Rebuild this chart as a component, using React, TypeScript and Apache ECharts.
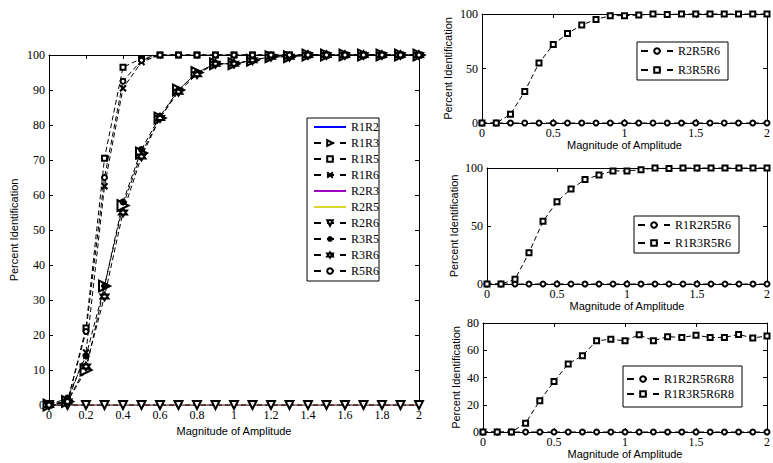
import React, { useEffect, useRef } from "react";
import * as echarts from "echarts";

const amplitudes = [0, 0.1, 0.2, 0.3, 0.4, 0.5, 0.6, 0.7, 0.8, 0.9, 1, 1.1, 1.2, 1.3, 1.4, 1.5, 1.6, 1.7, 1.8, 1.9, 2];

// Left panel
const r1r2 = [0, 0, 0, 0, 0, 0, 0, 0, 0, 0, 0, 0, 0, 0, 0, 0, 0, 0, 0, 0, 0];
const r1r3 = [0, 1, 10, 34, 57, 72, 82, 90, 95, 97.5, 97.5, 98.5, 99.5, 99.5, 100, 100, 100, 100, 100, 100, 100];
const r1r5 = [0, 1, 22, 70.5, 96.5, 99, 100, 100, 100, 100, 100, 100, 100, 100, 100, 100, 100, 100, 100, 100, 100];
const r1r6 = [0, 1, 15, 62.5, 90.5, 98, 100, 100, 100, 100, 100, 100, 100, 100, 100, 100, 100, 100, 100, 100, 100];
const r2r3 = [0, 0, 0, 0, 0, 0, 0, 0, 0, 0, 0, 0, 0, 0, 0, 0, 0, 0, 0, 0, 0];
const r2r5 = [0, 0, 0, 0, 0, 0, 0, 0, 0, 0, 0, 0, 0, 0, 0, 0, 0, 0, 0, 0, 0];
const r2r6 = [0, 0, 0, 0, 0, 0, 0, 0, 0, 0, 0, 0, 0, 0, 0, 0, 0, 0, 0, 0, 0];
const r3r5 = [0, 2, 14, 34, 58, 73, 82.5, 90, 95, 97.5, 97.5, 98.5, 99.5, 99.5, 100, 100, 100, 100, 100, 100, 100];
const r3r6 = [0, 1, 11, 31, 55, 71, 82, 89.5, 94.5, 97.5, 97.5, 98.5, 99.5, 99.5, 100, 100, 100, 100, 100, 100, 100];
const r5r6 = [0, 1, 21, 65, 92.5, 98.5, 100, 100, 100, 100, 100, 100, 100, 100, 100, 100, 100, 100, 100, 100, 100];

// Right panels
const r2r5r6 = [0, 0, 0, 0, 0, 0, 0, 0, 0, 0, 0, 0, 0, 0, 0, 0, 0, 0, 0, 0, 0];
const r3r5r6 = [0, 0, 8, 29, 55, 72, 82, 90, 95, 98.5, 98.5, 99, 100, 99.5, 100, 100, 100, 100, 100, 100, 100];
const r1r2r5r6 = [0, 0, 0, 0, 0, 0, 0, 0, 0, 0, 0, 0, 0, 0, 0, 0, 0, 0, 0, 0, 0];
const r1r3r5r6 = [0, 0, 4, 27, 54, 71, 82, 90, 94, 97.5, 97.5, 98.5, 100, 99.5, 100, 100, 100, 100, 100, 100, 100];
const r1r2r5r6r8 = [0, 0, 0, 0, 0, 0, 0, 0, 0, 0, 0, 0, 0, 0, 0, 0, 0, 0, 0, 0, 0];
const r1r3r5r6r8 = [0, 0, 0, 6.5, 23, 37, 50, 56, 67, 68, 67, 71.4, 67, 70, 69.4, 71, 69.4, 69.4, 71.6, 69, 70.5];

const leftNames = ["R1R2", "R1R3", "R1R5", "R1R6", "R2R3", "R2R5", "R2R6", "R3R5", "R3R6", "R5R6"];
const plainLineNames = ["R1R2", "R2R3", "R2R5"];

const SERIF = "'Liberation Serif', 'Times New Roman', serif";
const SANS = "'Liberation Sans', Arial, sans-serif";

const CROSS = "emptypath://M0 0L10 10M10 0L0 10";
const ASTER = "emptypath://M5 0L5 10M0 5L10 5M1.5 1.5L8.5 8.5M8.5 1.5L1.5 8.5";
const HEXA = "emptypath://M5 0L9.33 7.5L0.67 7.5Z M5 10L0.67 2.5L9.33 2.5Z";

function pairs(vals: number[]) {
  return amplitudes.map((x, i) => [x, vals[i]]);
}

function axes(
  grid: number,
  xInterval: number,
  yMax: number,
  yInterval: number,
  xGap: number,
  yGap: number
) {
  const line = { show: true, onZero: false, lineStyle: { color: "#000", width: 1 } };
  const tick = { show: true, inside: true, length: 4, lineStyle: { color: "#000" } };
  const label = { fontFamily: SERIF, fontSize: 12, color: "#000", margin: 4 };
  const nameStyle = { fontFamily: SANS, fontSize: 11, color: "#000" };
  const xBase = { type: "value", gridIndex: grid, min: 0, max: 2, interval: xInterval, splitLine: { show: false }, axisLine: line, axisTick: tick };
  const yBase = { type: "value", gridIndex: grid, min: 0, max: yMax, interval: yInterval, splitLine: { show: false }, axisLine: line, axisTick: tick };
  return {
    x: [
      { ...xBase, position: "bottom", axisLabel: label, name: "Magnitude of Amplitude", nameLocation: "middle", nameGap: xGap, nameTextStyle: nameStyle },
      { ...xBase, position: "top", axisLabel: { show: false } },
    ],
    y: [
      { ...yBase, position: "left", axisLabel: label, name: "Percent Identification", nameLocation: "middle", nameRotate: 90, nameGap: yGap, nameTextStyle: nameStyle },
      { ...yBase, position: "right", axisLabel: { show: false } },
    ],
  };
}

function ser(
  name: string,
  vals: number[],
  axisIdx: number,
  color: string,
  symbol: string,
  symbolSize: number,
  dashed: boolean,
  symbolRotate = 0
) {
  return {
    type: "line",
    name,
    xAxisIndex: axisIdx,
    yAxisIndex: axisIdx,
    data: pairs(vals),
    symbol,
    symbolSize,
    symbolRotate,
    showSymbol: symbol !== "none",
    clip: false,
    color,
    itemStyle: { color, borderWidth: 1 },
    lineStyle: { color, width: 1, type: dashed ? [5, 3] : "solid" },
  };
}

function legendItems(names: string[]) {
  return names.map((n) =>
    plainLineNames.indexOf(n) >= 0
      ? { name: n, itemStyle: { opacity: 0 }, lineStyle: { type: "solid" } }
      : { name: n }
  );
}

export default function App() {
  const ref = useRef<HTMLDivElement>(null);
  useEffect(() => {
    document.body.style.margin = "0";
    const chart = echarts.init(ref.current!, undefined, { renderer: "svg" });

    const a0 = axes(0, 0.2, 100, 10, 19, 30);
    const a1 = axes(1, 0.5, 100, 50, 14, 29);
    const a2 = axes(2, 0.5, 100, 50, 10, 28);
    const a3 = axes(3, 0.5, 80, 20, 9, 22);

    const xAxis = [...a0.x, ...a1.x, ...a2.x, ...a3.x];
    const yAxis = [...a0.y, ...a1.y, ...a2.y, ...a3.y];

    const legendText = { fontFamily: SERIF, fontSize: 12, color: "#000" };
    const legendBase = {
      orient: "vertical",
      itemWidth: 32,
      itemHeight: 7,
      backgroundColor: "#fff",
      borderColor: "#000",
      borderWidth: 1,
      textStyle: legendText,
      selectedMode: false,
      align: "left",
      lineStyle: { type: [7, 6] },
    };

    const option = {
      animation: false,
      backgroundColor: "#fff",
      grid: [
        { left: 49, top: 55, width: 370, height: 350 },
        { left: 482, top: 14, width: 288, height: 109 },
        { left: 487, top: 168, width: 288, height: 116 },
        { left: 483, top: 323, width: 290, height: 109 },
      ],
      xAxis,
      yAxis,
      legend: [
        { ...legendBase, data: legendItems(leftNames), left: 307, top: 118, itemGap: 4, padding: [3, 0, 4, 6] },
        { ...legendBase, data: legendItems(["R2R5R6", "R3R5R6"]), left: 637, top: 42, itemGap: 7, padding: [3, 8, 4, 3] },
        { ...legendBase, data: legendItems(["R1R2R5R6", "R1R3R5R6"]), left: 634, top: 216, itemGap: 6, padding: [3, 8, 4, 3] },
        { ...legendBase, data: legendItems(["R1R2R5R6R8", "R1R3R5R6R8"]), left: 623, top: 366, itemGap: 3, padding: [7, 8, 7, 3] },
      ],
      series: [
        ser("R1R2", r1r2, 0, "#0000ff", "none", 0, false),
        ser("R1R3", r1r3, 0, "#000", "emptyTriangle", 11, true, -90),
        ser("R1R5", r1r5, 0, "#000", "emptyRect", 5, true),
        ser("R1R6", r1r6, 0, "#000", CROSS, 6, true),
        ser("R2R3", r2r3, 0, "#a000c0", "none", 0, false),
        ser("R2R5", r2r5, 0, "#d8d830", "none", 0, false),
        ser("R2R6", r2r6, 0, "#000", "emptyTriangle", 8, true, 180),
        ser("R3R5", r3r5, 0, "#000", ASTER, 7, true),
        ser("R3R6", r3r6, 0, "#000", HEXA, 8, true),
        ser("R5R6", r5r6, 0, "#000", "emptyCircle", 5, true),
        ser("R2R5R6", r2r5r6, 2, "#000", "emptyCircle", 5, true),
        ser("R3R5R6", r3r5r6, 2, "#000", "emptyRect", 5, true),
        ser("R1R2R5R6", r1r2r5r6, 4, "#000", "emptyCircle", 5, true),
        ser("R1R3R5R6", r1r3r5r6, 4, "#000", "emptyRect", 5, true),
        ser("R1R2R5R6R8", r1r2r5r6r8, 6, "#000", "emptyCircle", 5, true),
        ser("R1R3R5R6R8", r1r3r5r6r8, 6, "#000", "emptyRect", 5, true),
      ],
    };
    chart.setOption(option as any);
    return () => chart.dispose();
  }, []);
  return <div ref={ref} style={{ width: 773, height: 463 }} />;
}
